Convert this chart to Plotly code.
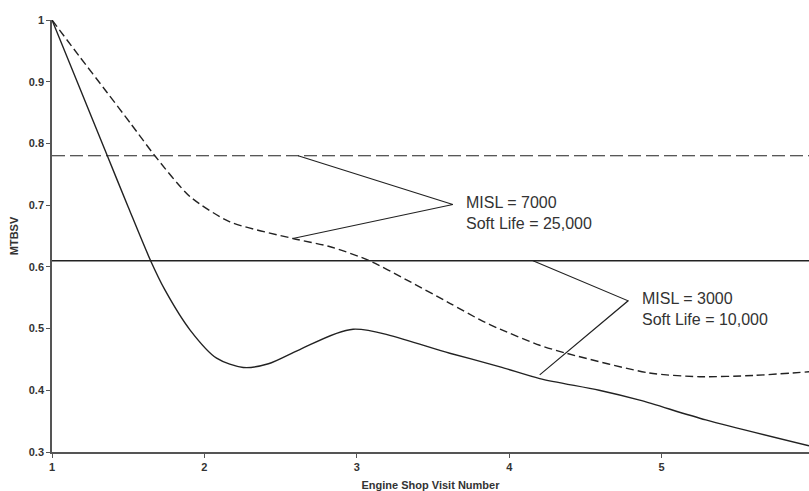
import plotly.graph_objects as go

# ---- data ----
solid_x = [1.0, 1.18, 1.363, 1.5, 1.647, 1.74, 1.905, 2.08, 2.255, 2.42, 2.626, 2.976, 3.61, 3.94, 4.2, 4.59, 4.856, 5.29, 5.967]
solid_y = [1.0, 0.891, 0.78, 0.697, 0.61, 0.563, 0.498, 0.452, 0.437, 0.443, 0.466, 0.499, 0.46, 0.438, 0.419, 0.40, 0.384, 0.352, 0.31]

dashed_x = [1.0, 1.18, 1.36, 1.52, 1.675, 1.905, 2.167, 2.58, 2.82, 3.074, 3.326, 3.61, 3.81, 3.94, 4.2, 4.375, 4.92, 5.25, 5.6, 5.967]
dashed_y = [1.0, 0.941, 0.883, 0.831, 0.78, 0.714, 0.673, 0.646, 0.633, 0.611, 0.579, 0.541, 0.514, 0.499, 0.473, 0.46, 0.428, 0.422, 0.424, 0.43]

hline_dashed = 0.78
hline_solid = 0.61
x_span = [1.0, 5.967]

# leader lines for labels
lead7000_x = [2.615, 3.63, 2.58]
lead7000_y = [0.78, 0.701, 0.646]
lead3000_x = [4.156, 4.78, 4.2]
lead3000_y = [0.61, 0.545, 0.425]

label7000 = "MISL = 7000<br>Soft Life = 25,000"
label3000 = "MISL = 3000<br>Soft Life = 10,000"
label7000_pos = (3.70, 0.687)
label3000_pos = (4.856, 0.532)

y_ticks = [0.3, 0.4, 0.5, 0.6, 0.7, 0.8, 0.9, 1.0]
y_ticktext = ["0.3", "0.4", "0.5", "0.6", "0.7", "0.8", "0.9", "1"]
x_ticks = [1, 2, 3, 4, 5]
x_ticktext = ["1", "2", "3", "4", "5"]

ink = "#222222"

fig = go.Figure()
fig.add_trace(go.Scatter(x=x_span, y=[hline_dashed, hline_dashed], mode="lines",
                         line=dict(color=ink, width=1.2, dash="13px,5px")))
fig.add_trace(go.Scatter(x=x_span, y=[hline_solid, hline_solid], mode="lines",
                         line=dict(color=ink, width=1.6)))
fig.add_trace(go.Scatter(x=solid_x, y=solid_y, mode="lines",
                         line=dict(color=ink, width=1.4, shape="spline", smoothing=0.8)))
fig.add_trace(go.Scatter(x=dashed_x, y=dashed_y, mode="lines",
                         line=dict(color=ink, width=1.4, dash="8px,4px", shape="spline", smoothing=0.7)))
fig.add_trace(go.Scatter(x=lead7000_x, y=lead7000_y, mode="lines",
                         line=dict(color=ink, width=1.2)))
fig.add_trace(go.Scatter(x=lead3000_x, y=lead3000_y, mode="lines",
                         line=dict(color=ink, width=1.2)))

fig.add_annotation(x=label7000_pos[0], y=label7000_pos[1], text=label7000, showarrow=False,
                   xanchor="left", yanchor="middle", align="left",
                   font=dict(family="Liberation Sans, Arial", size=16, color="#333333"))
fig.add_annotation(x=label3000_pos[0], y=label3000_pos[1], text=label3000, showarrow=False,
                   xanchor="left", yanchor="middle", align="left",
                   font=dict(family="Liberation Sans, Arial", size=16, color="#333333"))

axis_font = dict(family="Liberation Sans, Arial", size=11, color="#333333")
fig.update_layout(
    width=809, height=491,
    margin=dict(l=52, r=0, t=20, b=39),
    paper_bgcolor="white", plot_bgcolor="white",
    showlegend=False,
    xaxis=dict(range=[1.0, 5.967], tickvals=x_ticks, ticktext=[f"<b>{t}</b>" for t in x_ticktext],
               showgrid=False, zeroline=False, showline=True, linecolor="#555555", linewidth=1.5,
               ticks="outside", ticklen=4, tickcolor="#555555", tickfont=axis_font,
               title=dict(text="<b>Engine Shop Visit Number</b>", font=axis_font, standoff=10)),
    yaxis=dict(range=[0.3, 1.0], tickvals=y_ticks, ticktext=[f"<b>{t}</b>" for t in y_ticktext],
               showgrid=False, zeroline=False, showline=True, linecolor="#555555", linewidth=1.5,
               ticks="outside", ticklen=4, tickcolor="#555555", tickfont=axis_font,
               title=dict(text="<b>MTBSV</b>", font=axis_font, standoff=8)),
)

fig.write_html("out.html")
